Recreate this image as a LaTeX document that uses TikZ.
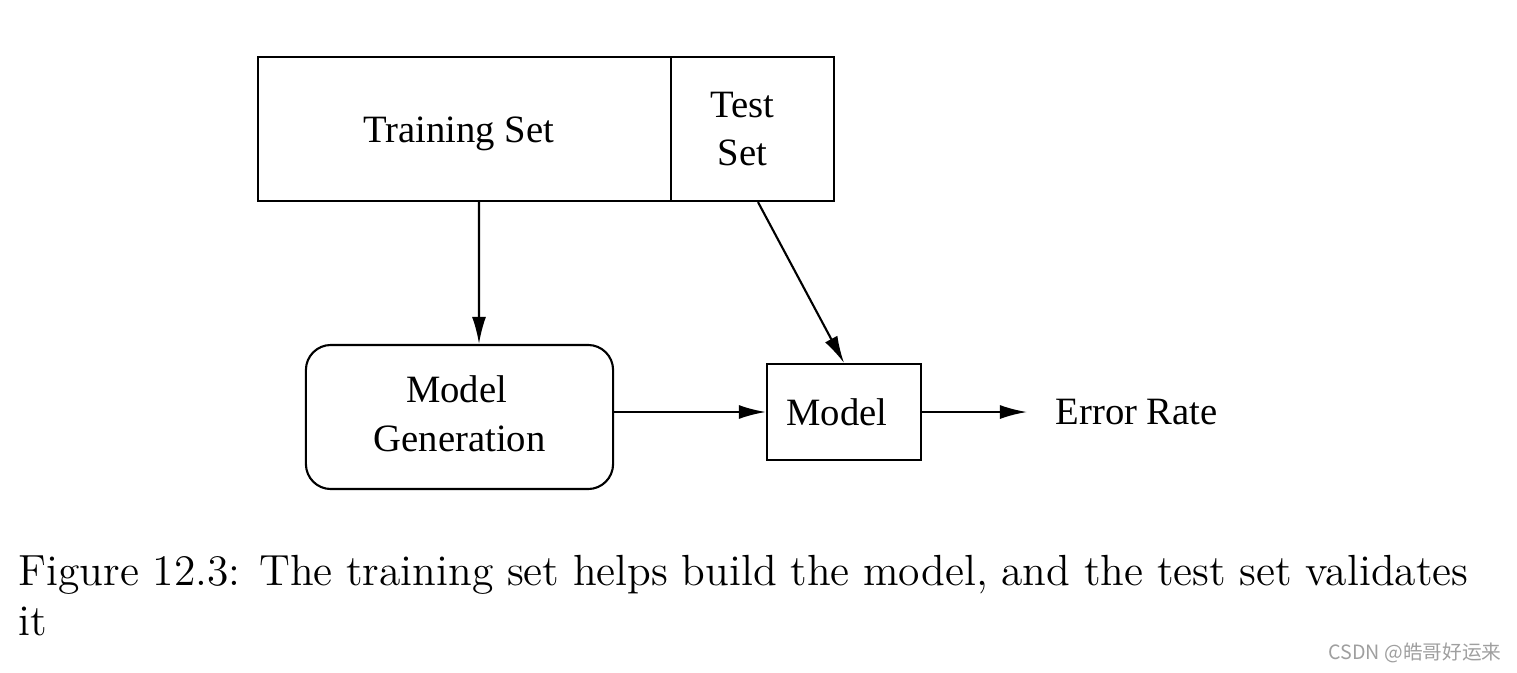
\documentclass[tikz,border=0pt]{standalone}
\usepackage{fontspec}
\usepackage{tikz}
\usetikzlibrary{arrows.meta}
\usetikzlibrary{positioning}
\newfontfamily\timesfont{Liberation Serif}
\newfontfamily\cjkfont{Noto Sans CJK SC}
\tikzset{box/.style = {draw, line width=0.6pt, inner sep=0, align=center,
                       font=\timesfont\fontsize{11}{13.9}\selectfont}}
\tikzset{arr/.style = {line width=0.6pt, -{Latex[length=2.7mm, width=1.4mm]}}}
\tikzset{lbl/.style = {inner sep=0, font=\timesfont\fontsize{11}{13.9}\selectfont}}
\tikzset{captext/.style = {inner sep=0, anchor=base west, font=\fontsize{12.4}{15}\selectfont}}
\newcommand{\nudge}[2]{\raisebox{#1}[\height][\depth]{#2}}

\begin{document}
\begin{tikzpicture}[x=0.01cm, y=-0.01cm]
      \useasboundingbox (0, 0) rectangle (1517, 672);

      % the data split
      \node [box, minimum width=4.13cm, minimum height=1.44cm] (train) at (464.5, 129) {\nudge{-0.05cm}{Training Set}\hspace{0.12cm}};
      \node [box, minimum width=1.63cm, minimum height=1.44cm] (test) at (752.5, 129) {Test\kern0.2cm\\Set\kern0.2cm};

      % model building and checking
      \node [box, rounded corners=0.25cm, minimum width=3.07cm, minimum height=1.44cm] (gen) at (459.5, 417) {\nudge{0.03cm}{Model}\kern0.06cm\\\nudge{0.03cm}{Generation}};
      \node [box, minimum width=1.54cm, minimum height=0.96cm] (model) at (844, 412) {Model\hspace{0.14cm}};
      \node [lbl, anchor=west] (err) at (1055, 412) {Error Rate};

      \draw [arr] ([xshift=0.145cm]train.south) -- ([xshift=0.195cm]gen.north);
      \draw [arr] ([xshift=0.055cm]test.south) -- (model.north);
      \draw [arr] (gen.east |- model.west) -- (model.west);
      \draw [arr] (model.east) -- ([xshift=-0.28cm]err.west);

      % caption
      \node [captext] (cap1) at (18, 585) {\makebox[14.49cm][s]{Figure 12.3: The training set helps build the model, and the test set validates}};
      \node [captext] (cap2) at (18, 635) {it};

      \node [inner sep=0, text=gray!75, font=\cjkfont\fontsize{5.6}{6}\selectfont] (mark) at (1415, 653) {CSDN @皓哥好运来};
    \end{tikzpicture}
\end{document}
